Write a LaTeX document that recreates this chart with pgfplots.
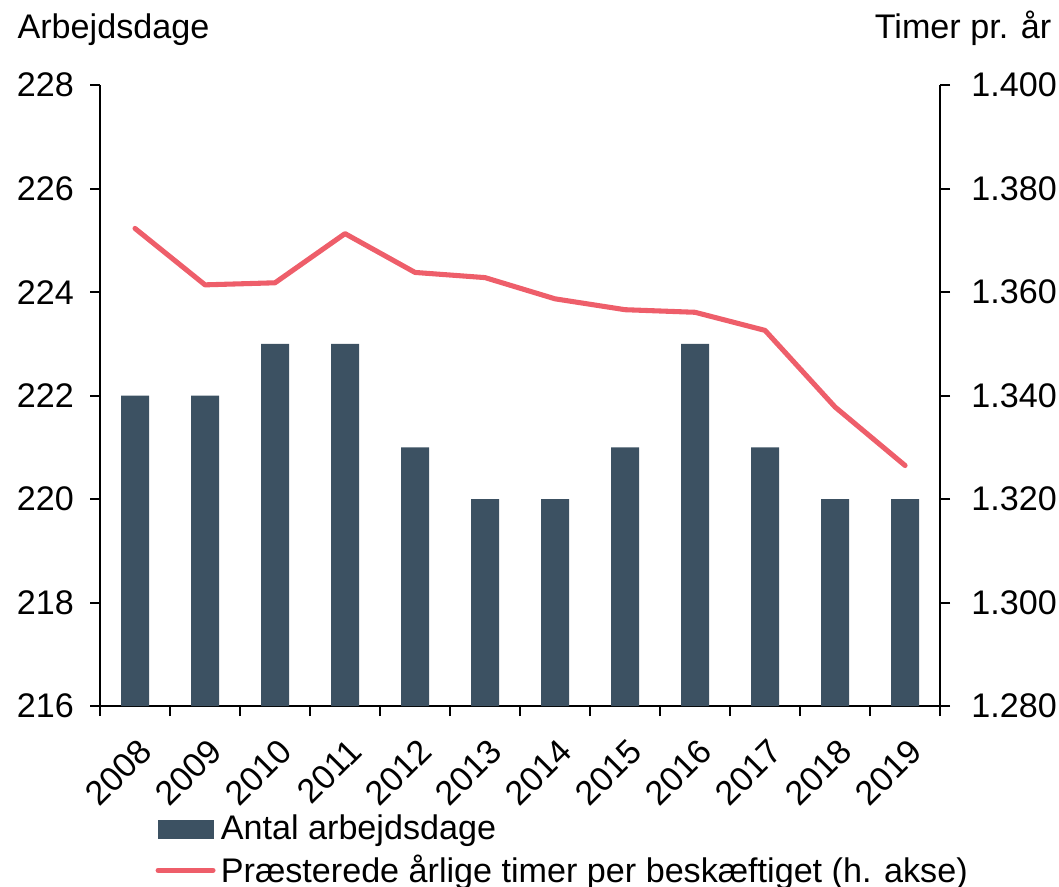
\documentclass[border=0pt]{standalone}
\usepackage{fontspec}
\setmainfont{Liberation Sans}
\usepackage{pgfplots}
\pgfplotsset{compat=1.18}
\definecolor{barc}{RGB}{60,81,98}
\definecolor{linec}{RGB}{238,94,106}
\begin{document}
\begin{tikzpicture}
\pgfplotsset{
  common/.style={
    scale only axis, width=315pt, height=232.9pt,
    xmin=-0.5, xmax=11.5,
    /pgf/number format/assume math mode=true,
    tick align=outside,
    tick style={line width=0.75pt, black},
    major tick length=3.75pt, minor tick length=3.75pt,
    axis line style={line width=0.75pt, -},
    tick label style={font=\fontsize{12.8}{15}\selectfont},
  }
}
\begin{axis}[common, name=ax,
  ymin=216, ymax=228, ytick={216,218,...,228},
  axis x line*=bottom, axis y line*=left,
  xtick={0,...,11},
  xticklabels={2008,2009,2010,2011,2012,2013,2014,2015,2016,2017,2018,2019},
  minor xtick={-0.5,0.5,...,11.5},
  major x tick style={draw=none},
  xticklabel style={rotate=45, anchor=east, yshift=-10.5pt, xshift=-1.5pt},
  yticklabel style={xshift=-2.5pt},
]
\addplot[ybar, bar width=10.5pt, fill=barc, draw=none] coordinates {
(0,222) (1,222) (2,223) (3,223) (4,221) (5,220) (6,220) (7,221) (8,223) (9,221) (10,220) (11,220)};
\end{axis}
\begin{axis}[common,
  ymin=1280, ymax=1400, ytick={1280,1300,...,1400},
  axis y line*=right, axis x line=none,
  yticklabel style={/pgf/number format/1000 sep={.}, xshift=4.5pt},
  legend style={draw=none, fill=none, at={(0.0655,-0.166)}, anchor=north west,
    inner sep=0pt, font=\fontsize{12.8}{15}\selectfont, cells={anchor=west},
    row sep=0pt},
]
\addlegendimage{legend image code/.code={\fill[barc] (0pt,-3.2pt) rectangle (20.6pt,3.2pt);}}
\addlegendentry{Antal arbejdsdage}
\addplot[line width=1.9pt, color=linec, line join=round, line cap=round,
  legend image code/.code={\draw[line width=1.9pt, linec, line cap=round] (0pt,0pt) -- (20.6pt,0pt);}]
  coordinates {
(0,1372.3) (1,1361.4) (2,1361.8) (3,1371.3) (4,1363.8) (5,1362.8) (6,1358.7) (7,1356.6) (8,1356.1) (9,1352.6) (10,1337.8) (11,1326.5)};
\addlegendentry{Præsterede årlige timer per beskæftiget (h. akse)}
\end{axis}
\node[anchor=base west, font=\fontsize{12.8}{15}\selectfont, inner sep=0pt] at ([xshift=-31.1pt, yshift=17.5pt]ax.north west) {Arbejdsdage};
\node[anchor=base east, font=\fontsize{12.8}{15}\selectfont, inner sep=0pt] at ([xshift=41.9pt, yshift=17.6pt]ax.north east) {Timer pr. år};
\pgfresetboundingbox
\path ([xshift=-37.5pt, yshift=-67.5pt]ax.south west) rectangle ([xshift=44.6pt, yshift=31.9pt]ax.north east);
\end{tikzpicture}
\end{document}
